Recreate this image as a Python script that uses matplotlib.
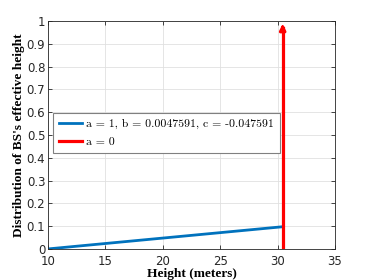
import numpy as np
import matplotlib
matplotlib.use('Agg')
import matplotlib.pyplot as plt

# data
a_val = 1
b_val = 0.0047591
c_val = -0.047591
heights = [10, 30.4]
dist = [b_val * h + c_val for h in heights]
impulse_x = 30.45
impulse_y = [0, 1]

x_ticks = [10, 15, 20, 25, 30, 35]
y_ticks = [0, 0.1, 0.2, 0.3, 0.4, 0.5, 0.6, 0.7, 0.8, 0.9, 1]

# create plot
fig = plt.figure(figsize=(3.7, 2.8), dpi=100)
ax = fig.add_axes([0.13, 0.111, 0.775, 0.814])

blue = (0.0, 0.447, 0.741)
ax.plot(heights, dist, color=blue, lw=2.0,
        label='a = %d, b = %.7f, c = %.6f' % (a_val, b_val, c_val))
ax.plot([impulse_x, impulse_x], [impulse_y[0], impulse_y[1] - 0.03], color='red', lw=2.3,
        label='a = 0')
ax.annotate('', xy=(impulse_x, impulse_y[1]), xytext=(impulse_x, impulse_y[1] - 0.05),
            arrowprops=dict(arrowstyle='-|>', color='red', lw=2.3, mutation_scale=8))

ax.set_xlim(10, 35)
ax.set_ylim(0, 1)
ax.set_xticks(x_ticks)
ax.set_yticks(y_ticks)
ax.set_yticklabels(['0', '0.1', '0.2', '0.3', '0.4', '0.5', '0.6', '0.7', '0.8', '0.9', '1'])
ax.grid(True, color='0.88', lw=0.6)
ax.set_axisbelow(True)
ax.tick_params(direction='in', top=True, right=True, labelsize=8.5, colors='0.15',
               length=3, width=0.6)
ax.tick_params(axis='x', pad=4.5)
ax.tick_params(axis='y', pad=2)
for s in ax.spines.values():
    s.set_color('0.15')
    s.set_linewidth(0.6)

ax.set_xlabel('Height (meters)', family='Liberation Serif', fontweight='bold', fontsize=9.6, labelpad=0)
ax.set_ylabel("Distribution of BS's effective height", family='Liberation Serif', fontweight='bold',
              fontsize=9.6, labelpad=1)

leg = ax.legend(loc='upper left', bbox_to_anchor=(0.017, 0.596), prop={'family': 'cmr10', 'size': 8.5},
                fancybox=False, framealpha=1, edgecolor='0.5', borderpad=0.5, handlelength=2.0,
                handletextpad=0.3, labelspacing=0.6, borderaxespad=0)
leg.get_frame().set_linewidth(0.8)

fig.savefig('out.png', dpi=100)
